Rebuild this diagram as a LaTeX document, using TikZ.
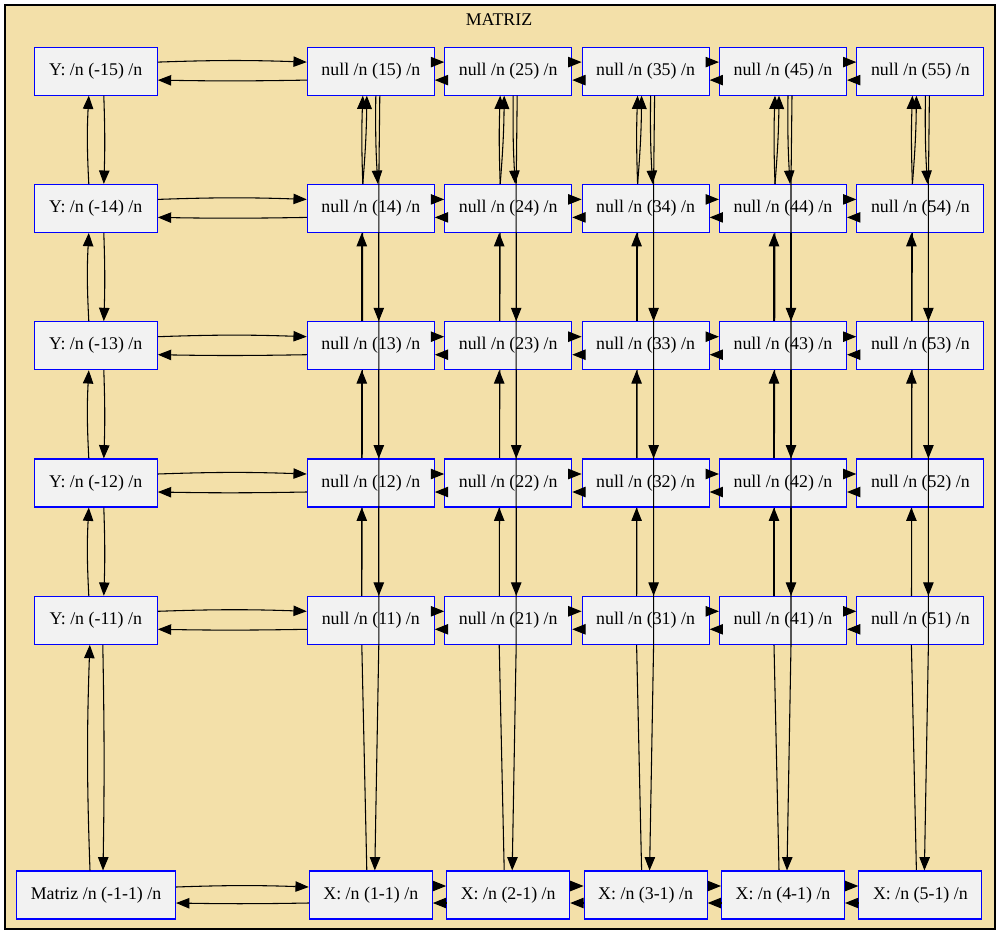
\documentclass[tikz,border=0pt]{standalone}
\usepackage{fontspec}
\setmainfont{Liberation Serif}
\usetikzlibrary{positioning,calc,arrows.meta}
\definecolor{clfondo}{RGB}{243,224,169}
\definecolor{ndfondo}{RGB}{242,242,242}
\pgfdeclarelayer{fondo}
\pgfdeclarelayer{atras}
\pgfsetlayers{fondo,atras,main}

\begin{document}
\begin{tikzpicture}[x=0.75pt,y=-0.75pt,>={Triangle[length=10pt,width=7.8pt]},
          font=\fontsize{13.4}{16}\selectfont,
          nd/.style={draw=blue,fill=ndfondo,line width=0.8pt,inner sep=0pt,minimum height=36pt,minimum width=95.25pt},
          hd/.style={nd,minimum width=92.25pt},
          ar/.style={->,line width=0.8pt}]
        \useasboundingbox (0,0) rectangle (1000,935);
        \begin{pgfonlayer}{fondo}
          \draw[fill=clfondo,line width=0.8pt] (5,5) rectangle (995,929);
        \end{pgfonlayer}
        \node (tit) at (499,20) {MATRIZ};
        % cabeceras
        \node[nd,minimum width=119.25pt] (m) at (96,895) {Matriz /n (-1-1) /n};
        \foreach \f in {1,...,5}{
          \pgfmathsetmacro\yy{620.3-(\f-1)*137.3}
          \node[hd] (y\f) at (95.8,\yy) {Y: /n (-1\f) /n};
        }
        \foreach \c in {1,...,5}{
          \pgfmathsetmacro\xx{370.8+(\c-1)*137.4}
          \node[hd] (x\c) at (\xx,895) {X: /n (\c-1) /n};
          \foreach \f in {1,...,5}{
            \pgfmathsetmacro\yy{620.3-(\f-1)*137.3}
            \node[nd] (n\c\f) at (\xx,\yy) {null /n (\c\f) /n};
          }
        }
        % filas
        \draw[ar] ($(m.east)+(0,-8)$) to[bend left=2] ($(x1.west)+(0,-8)$);
        \draw[ar] ($(x1.west)+(0,8)$) to[bend left=1] ($(m.east)+(0,8)$);
        \foreach \f in {1,...,5}{
          \draw[ar] ($(y\f.east)+(0,-9)$) to[bend left=2] ($(n1\f.west)+(0,-9)$);
          \draw[ar] ($(n1\f.west)+(0,9)$) to[bend left=1] ($(y\f.east)+(0,9)$);
        }
        \foreach \c/\d in {1/2,2/3,3/4,4/5}{
          \draw[ar] ($(x\c.east)+(0,-9)$) -- ($(x\d.west)+(0,-9)$);
          \draw[ar] ($(x\d.west)+(0,8)$) -- ($(x\c.east)+(0,8)$);
          \foreach \f in {1,...,5}{
            \draw[ar] ($(n\c\f.east)+(0,-9)$) -- ($(n\d\f.west)+(0,-9)$);
            \draw[ar] ($(n\d\f.west)+(0,9)$) -- ($(n\c\f.east)+(0,9)$);
          }
        }
        % columna Y
        \draw[ar] ($(m.north)+(-6,0)$) to[bend left=2] ($(y1.south)+(-6,0)$);
        \draw[ar] ($(y1.south)+(7,0)$) to[bend left=1] ($(m.north)+(7,0)$);
        \foreach \f/\g in {1/2,2/3,3/4,4/5}{
          \draw[ar] ($(y\f.north)+(-7,0)$) to[bend left=3] ($(y\g.south)+(-7,0)$);
          \draw[ar] ($(y\g.south)+(8,0)$) to[bend left=2] ($(y\f.north)+(8,0)$);
        }
        % columnas X
        \foreach \c in {1,...,5}{
          \begin{pgfonlayer}{atras}
            \draw[ar] ($(x\c.north)+(-4,0)$) -- ($(n\c1.south)+(-9,0)$) -- ($(n\c4.north)+(-8,0)$)
              to[bend right=2] ($(n\c5.south)+(-4,0)$);
          \end{pgfonlayer}
          \foreach \f/\g in {1/2,2/3,3/4}{
            \draw[ar] ($(n\c\f.north)+(-9,0)$) -- ($(n\c\g.south)+(-9,0)$);
            \draw[ar] ($(n\c\g.south)+(8,0)$) -- ($(n\c\f.north)+(8,0)$);
          }
          \draw[ar] ($(n\c4.north)+(-8,0)$) to[bend left=2] ($(n\c5.south)+(-8,0)$);
          \draw[ar] ($(n\c5.south)+(5,0)$) to[bend right=2] ($(n\c4.north)+(7,0)$);
          \draw[ar] ($(n\c5.south)+(9,0)$) -- ($(n\c4.north)+(8,0)$) -- ($(n\c1.south)+(8,0)$)
            -- ($(x\c.north)+(4,0)$);
        }
      \end{tikzpicture}
\end{document}
